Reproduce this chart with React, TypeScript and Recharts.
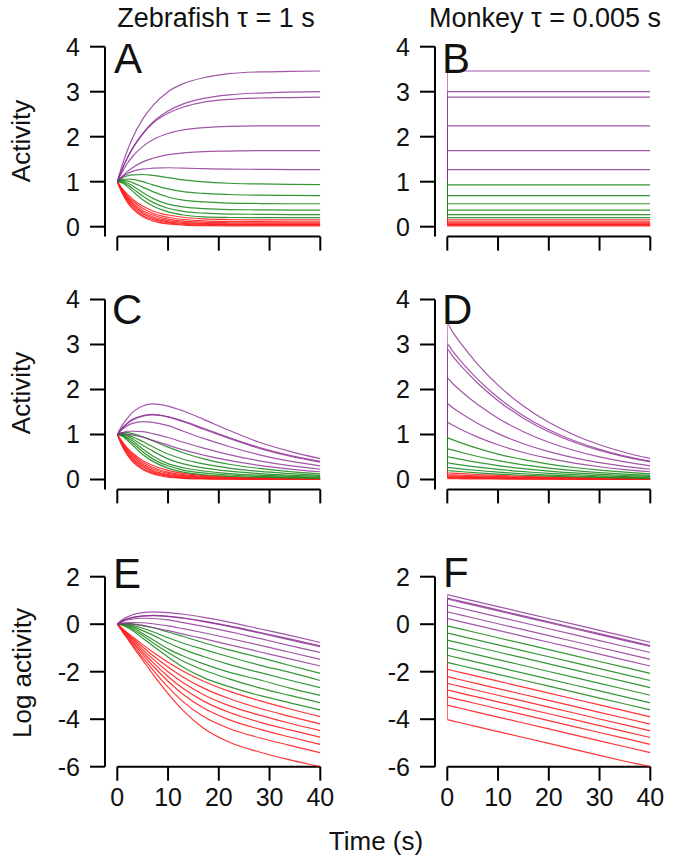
import React from 'react';
import { LineChart, Line, XAxis, YAxis, ReferenceLine } from 'recharts';

const FONT = '"Liberation Sans", Arial, Helvetica, sans-serif';
const PURPLE = '#8b2c92';
const GREEN = '#1f8c1f';
const RED = '#ff1f1f';
const W = 675;
const H = 866;

// time grids (s)
const zebraTime = [0, 0.5, 1, 2, 3, 5, 7, 10, 13, 17, 22, 28, 34, 40];
const monkeyTime = [0, 0.02, 1, 3, 6, 10, 15, 20, 25, 30, 35, 40];
const stepTime = [0, 0.02, 40];

// panel A: zebrafish activity, no decay
const zebraPurpleA = [
  [1, 1.2, 1.38, 1.7, 1.97, 2.39, 2.69, 3.0, 3.18, 3.31, 3.4, 3.44, 3.45, 3.46],
  [1, 1.15, 1.29, 1.53, 1.74, 2.07, 2.32, 2.57, 2.73, 2.85, 2.93, 2.97, 2.99, 3.0],
  [1, 1.15, 1.29, 1.53, 1.74, 2.06, 2.3, 2.52, 2.66, 2.77, 2.83, 2.86, 2.87, 2.88],
  [1, 1.12, 1.22, 1.41, 1.56, 1.78, 1.93, 2.07, 2.15, 2.2, 2.23, 2.24, 2.24, 2.24],
  [1, 1.07, 1.12, 1.23, 1.31, 1.44, 1.52, 1.6, 1.64, 1.67, 1.68, 1.69, 1.69, 1.69],
  [1, 1.06, 1.11, 1.18, 1.23, 1.28, 1.3, 1.31, 1.3, 1.29, 1.28, 1.275, 1.27, 1.27],
];
const zebraGreenA = [
  [1, 1.05, 1.09, 1.13, 1.15, 1.16, 1.14, 1.09, 1.04, 0.995, 0.965, 0.95, 0.94, 0.935],
  [1, 1.03, 1.05, 1.06, 1.05, 1.0, 0.93, 0.84, 0.78, 0.74, 0.715, 0.7, 0.695, 0.69],
  [1, 1.02, 1.03, 1.02, 0.98, 0.88, 0.78, 0.66, 0.59, 0.55, 0.525, 0.515, 0.51, 0.51],
  [1, 1.01, 1.01, 0.97, 0.91, 0.76, 0.63, 0.5, 0.44, 0.4, 0.38, 0.375, 0.37, 0.37],
  [1, 1.0, 0.99, 0.93, 0.85, 0.68, 0.54, 0.41, 0.34, 0.3, 0.28, 0.275, 0.27, 0.27],
  [1, 0.99, 0.97, 0.89, 0.79, 0.6, 0.46, 0.33, 0.26, 0.22, 0.205, 0.2, 0.2, 0.2],
];
const zebraRedA = [
  [1, 0.92, 0.84, 0.72, 0.61, 0.46, 0.35, 0.26, 0.21, 0.176, 0.16, 0.153, 0.151, 0.15],
  [1, 0.91, 0.82, 0.68, 0.57, 0.41, 0.3, 0.21, 0.16, 0.131, 0.117, 0.112, 0.11, 0.11],
  [1, 0.9, 0.81, 0.65, 0.53, 0.36, 0.26, 0.17, 0.125, 0.099, 0.088, 0.084, 0.083, 0.083],
  [1, 0.89, 0.79, 0.63, 0.5, 0.32, 0.22, 0.136, 0.097, 0.075, 0.066, 0.064, 0.063, 0.063],
  [1, 0.88, 0.77, 0.6, 0.47, 0.29, 0.19, 0.109, 0.074, 0.056, 0.049, 0.047, 0.047, 0.047],
  [1, 0.87, 0.75, 0.57, 0.43, 0.25, 0.16, 0.084, 0.054, 0.039, 0.034, 0.033, 0.033, 0.033],
  [1, 0.86, 0.74, 0.54, 0.4, 0.22, 0.13, 0.061, 0.035, 0.023, 0.019, 0.018, 0.018, 0.018],
];

// panel E: zebrafish log activity with decay (panel C is the same in linear units)
const zebraPurpleLog = [
  [0, 0.11, 0.19, 0.31, 0.4, 0.49, 0.52, 0.49, 0.42, 0.29, 0.09, -0.19, -0.47, -0.77],
  [0, 0.07, 0.13, 0.22, 0.28, 0.34, 0.36, 0.33, 0.26, 0.13, -0.07, -0.34, -0.62, -0.91],
  [0, 0.08, 0.14, 0.23, 0.29, 0.35, 0.37, 0.33, 0.25, 0.11, -0.09, -0.37, -0.66, -0.95],
  [0, 0.06, 0.11, 0.18, 0.22, 0.25, 0.24, 0.18, 0.07, -0.09, -0.31, -0.6, -0.9, -1.19],
  [0, 0.02, 0.04, 0.07, 0.07, 0.06, 0.02, -0.07, -0.19, -0.36, -0.59, -0.88, -1.18, -1.48],
  [0, 0.01, 0.01, 0.01, -0.01, -0.06, -0.14, -0.27, -0.42, -0.61, -0.86, -1.16, -1.46, -1.76],
];
const zebraGreenLog = [
  [0, 0.03, 0.04, 0.04, 0.02, -0.05, -0.15, -0.33, -0.52, -0.78, -1.08, -1.4, -1.74, -2.07],
  [0, 0.01, 0.02, -0.01, -0.05, -0.17, -0.32, -0.57, -0.8, -1.06, -1.37, -1.72, -2.03, -2.37],
  [0, 0.01, 0, -0.03, -0.1, -0.27, -0.46, -0.78, -1.06, -1.36, -1.69, -2.03, -2.36, -2.67],
  [0, 0, -0.01, -0.07, -0.15, -0.39, -0.65, -1.04, -1.34, -1.67, -2.02, -2.34, -2.69, -3.0],
  [0, -0.01, -0.02, -0.1, -0.21, -0.48, -0.78, -1.19, -1.56, -1.93, -2.3, -2.68, -3.0, -3.31],
  [0, -0.02, -0.04, -0.14, -0.27, -0.59, -0.91, -1.38, -1.81, -2.25, -2.63, -3.0, -3.31, -3.61],
];
const zebraRedLog = [
  [0, -0.09, -0.18, -0.36, -0.53, -0.86, -1.17, -1.6, -1.98, -2.4, -2.82, -3.22, -3.57, -3.89],
  [0, -0.1, -0.2, -0.4, -0.59, -0.96, -1.32, -1.8, -2.23, -2.69, -3.13, -3.54, -3.88, -4.2],
  [0, -0.11, -0.22, -0.44, -0.65, -1.07, -1.46, -2.0, -2.47, -2.97, -3.43, -3.83, -4.17, -4.48],
  [0, -0.12, -0.24, -0.48, -0.72, -1.17, -1.61, -2.2, -2.71, -3.24, -3.71, -4.12, -4.45, -4.76],
  [0, -0.13, -0.26, -0.52, -0.78, -1.27, -1.75, -2.4, -2.96, -3.53, -4.02, -4.42, -4.75, -5.06],
  [0, -0.14, -0.29, -0.57, -0.85, -1.4, -1.92, -2.65, -3.27, -3.89, -4.39, -4.78, -5.1, -5.41],
  [0, -0.15, -0.31, -0.61, -0.92, -1.51, -2.1, -2.92, -3.64, -4.38, -4.96, -5.38, -5.71, -6.0],
];

// panel B: monkey steady levels
const monkeyPurpleLevels = [3.46, 3.0, 2.88, 2.24, 1.69, 1.27];
const monkeyGreenLevels = [0.93, 0.69, 0.51, 0.37, 0.27, 0.2];
const monkeyRedLevels = [0.15, 0.11, 0.083, 0.063, 0.047, 0.033, 0.018];

// panel F: monkey log activity with decay (panel D is the same in linear units)
const monkeyPurpleLog = [
  [0, 1.24, 1.19, 1.09, 0.94, 0.74, 0.49, 0.24, -0.01, -0.26, -0.51, -0.76],
  [0, 1.1, 1.05, 0.95, 0.8, 0.6, 0.35, 0.1, -0.15, -0.4, -0.65, -0.9],
  [0, 1.06, 1.01, 0.91, 0.76, 0.56, 0.31, 0.06, -0.19, -0.44, -0.69, -0.94],
  [0, 0.81, 0.76, 0.66, 0.51, 0.31, 0.06, -0.19, -0.44, -0.69, -0.94, -1.19],
  [0, 0.52, 0.47, 0.37, 0.22, 0.02, -0.23, -0.48, -0.73, -0.98, -1.23, -1.48],
  [0, 0.24, 0.19, 0.09, -0.06, -0.26, -0.51, -0.76, -1.01, -1.26, -1.51, -1.76],
];
const monkeyGreenLog = [
  [0, -0.07, -0.12, -0.22, -0.37, -0.57, -0.82, -1.07, -1.32, -1.57, -1.82, -2.07],
  [0, -0.37, -0.42, -0.52, -0.67, -0.87, -1.12, -1.37, -1.62, -1.87, -2.12, -2.37],
  [0, -0.67, -0.72, -0.82, -0.97, -1.17, -1.42, -1.67, -1.92, -2.17, -2.42, -2.67],
  [0, -0.99, -1.04, -1.14, -1.29, -1.49, -1.74, -1.99, -2.24, -2.49, -2.74, -2.99],
  [0, -1.31, -1.36, -1.46, -1.61, -1.81, -2.06, -2.31, -2.56, -2.81, -3.06, -3.31],
  [0, -1.61, -1.66, -1.76, -1.91, -2.11, -2.36, -2.61, -2.86, -3.11, -3.36, -3.61],
];
const monkeyRedLog = [
  [0, -1.9, -1.95, -2.05, -2.2, -2.4, -2.65, -2.9, -3.15, -3.4, -3.65, -3.9],
  [0, -2.21, -2.26, -2.36, -2.51, -2.71, -2.96, -3.21, -3.46, -3.71, -3.96, -4.21],
  [0, -2.49, -2.54, -2.64, -2.79, -2.99, -3.24, -3.49, -3.74, -3.99, -4.24, -4.49],
  [0, -2.77, -2.82, -2.92, -3.07, -3.27, -3.52, -3.77, -4.02, -4.27, -4.52, -4.77],
  [0, -3.06, -3.11, -3.21, -3.36, -3.56, -3.81, -4.06, -4.31, -4.56, -4.81, -5.06],
  [0, -3.41, -3.46, -3.56, -3.71, -3.91, -4.16, -4.41, -4.66, -4.91, -5.16, -5.41],
  [0, -4.02, -4.07, -4.17, -4.32, -4.52, -4.77, -5.02, -5.27, -5.52, -5.77, -6.0],
];

const xTicks = [0, 10, 20, 30, 40];
const linTicks = [0, 1, 2, 3, 4];
const logTicks = [-6, -4, -2, 0, 2];

type Row = Record<string, number>;
type LineDef = { key: string; color: string; opacity: number };

// red drawn first, purple on top
function stack(red: number[][], green: number[][], purple: number[][]) {
  const series = [...red, ...green, ...purple];
  const lines: LineDef[] = series.map((_, k) => {
    const color = k < red.length ? RED : k < red.length + green.length ? GREEN : PURPLE;
    return { key: 's' + k, color, opacity: color === PURPLE ? 0.8 : 0.9 };
  });
  return { series, lines };
}

function makeRows(times: number[], series: number[][], f: (v: number) => number = (v) => v): Row[] {
  return times.map((t, i) => {
    const row: Row = { t };
    series.forEach((s, k) => {
      row['s' + k] = f(s[i]);
    });
    return row;
  });
}

const zebraA = stack(zebraRedA, zebraGreenA, zebraPurpleA);
const zebraLog = stack(zebraRedLog, zebraGreenLog, zebraPurpleLog);
const monkeyLog = stack(monkeyRedLog, monkeyGreenLog, monkeyPurpleLog);
const monkeyB = stack(
  monkeyRedLevels.map((v) => [1, v, v]),
  monkeyGreenLevels.map((v) => [1, v, v]),
  monkeyPurpleLevels.map((v) => [1, v, v])
);

const rowsA = makeRows(zebraTime, zebraA.series);
const rowsB = makeRows(stepTime, monkeyB.series);
const rowsC = makeRows(zebraTime, zebraLog.series, Math.exp);
const rowsD = makeRows(monkeyTime, monkeyLog.series, Math.exp);
const rowsE = makeRows(zebraTime, zebraLog.series);
const rowsF = makeRows(monkeyTime, monkeyLog.series);

interface PanelProps {
  rows: Row[];
  lines: LineDef[];
  left: number; // x of the y axis line
  top: number; // y of the top tick
  bottom: number; // y of the x axis line
  domain: [number, number];
  ticks: number[];
  xLabels?: boolean;
  curve: 'monotone' | 'linear';
}

const axisStroke = { stroke: '#000', strokeWidth: 2 };
const tickFont = { fill: '#111', fontSize: 25, fontFamily: FONT };
const noLabel = () => '';

const Panel = ({ rows, lines, left, top, bottom, domain, ticks, xLabels, curve }: PanelProps) => {
  const plotRight = left + 215.3;
  return (
    <div style={{ position: 'absolute', left: 0, top: 0 }}>
      <LineChart
        width={W}
        height={H}
        data={rows}
        margin={{ left: left - 60, top, right: W - plotRight, bottom: H - bottom - 50 }}
      >
        <XAxis
          type="number"
          dataKey="t"
          domain={[0, 40]}
          ticks={xTicks}
          interval={0}
          padding={{ left: 12.3, right: 0 }}
          axisLine={false}
          tickLine={axisStroke}
          tickSize={14}
          tickMargin={8}
          tick={tickFont}
          tickFormatter={xLabels ? undefined : noLabel}
          height={50}
          allowDataOverflow
        />
        <YAxis
          type="number"
          domain={domain}
          ticks={ticks}
          interval={0}
          width={60}
          axisLine={axisStroke}
          tickLine={axisStroke}
          tickSize={15}
          tickMargin={10}
          tick={tickFont}
          allowDataOverflow
        />
        <ReferenceLine
          segment={[
            { x: 0, y: domain[0] },
            { x: 40, y: domain[0] },
          ]}
          stroke="#000"
          strokeWidth={2}
          ifOverflow="visible"
        />
        {lines.map((l) => (
          <Line
            key={l.key}
            dataKey={l.key}
            type={curve}
            stroke={l.color}
            strokeOpacity={l.opacity}
            strokeWidth={1.2}
            dot={false}
            activeDot={false}
            isAnimationActive={false}
          />
        ))}
      </LineChart>
    </div>
  );
};

const App = () => {
  const linDomain: [number, number] = [-0.22, 4];
  const logDomain: [number, number] = [-6, 2];
  return (
    <div style={{ position: 'absolute', left: 0, top: 0, width: W, height: H, background: '#fff' }}>
      <Panel rows={rowsA} lines={zebraA.lines} left={105} top={46.7} bottom={236.6} domain={linDomain} ticks={linTicks} curve="monotone" />
      <Panel rows={rowsB} lines={monkeyB.lines} left={435} top={46.7} bottom={236.6} domain={linDomain} ticks={linTicks} curve="linear" />
      <Panel rows={rowsC} lines={zebraLog.lines} left={105} top={299.5} bottom={489.4} domain={linDomain} ticks={linTicks} curve="monotone" />
      <Panel rows={rowsD} lines={monkeyLog.lines} left={435} top={299.5} bottom={489.4} domain={linDomain} ticks={linTicks} curve="monotone" />
      <Panel rows={rowsE} lines={zebraLog.lines} left={105} top={576.7} bottom={766.7} domain={logDomain} ticks={logTicks} xLabels curve="monotone" />
      <Panel rows={rowsF} lines={monkeyLog.lines} left={435} top={576.7} bottom={766.7} domain={logDomain} ticks={logTicks} xLabels curve="linear" />
      <svg width={W} height={H} style={{ position: 'absolute', left: 0, top: 0, pointerEvents: 'none' }}>
        <g fontFamily={FONT} fill="#111">
          <text x={216} y={27} fontSize={27} textAnchor="middle">Zebrafish τ = 1 s</text>
          <text x={545} y={27} fontSize={27} textAnchor="middle">Monkey τ = 0.005 s</text>
          <text x={114} y={73} fontSize={42}>A</text>
          <text x={442} y={73} fontSize={42}>B</text>
          <text x={112} y={324} fontSize={42}>C</text>
          <text x={442} y={324} fontSize={42}>D</text>
          <text x={113} y={588} fontSize={42}>E</text>
          <text x={443} y={587} fontSize={42}>F</text>
          <text x={21} y={141} fontSize={26} textAnchor="middle" dominantBaseline="central" transform="rotate(-90 21 141)">Activity</text>
          <text x={21} y={393} fontSize={26} textAnchor="middle" dominantBaseline="central" transform="rotate(-90 21 393)">Activity</text>
          <text x={22} y={673} fontSize={26} textAnchor="middle" dominantBaseline="central" transform="rotate(-90 22 673)">Log activity</text>
          <text x={376} y={850} fontSize={26} textAnchor="middle">Time (s)</text>
        </g>
      </svg>
    </div>
  );
};

export default App;
